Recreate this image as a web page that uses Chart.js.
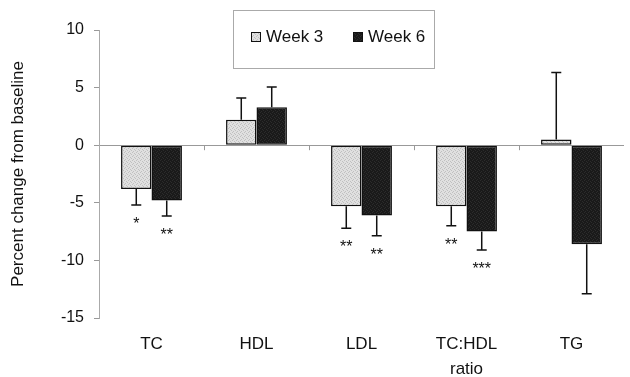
<!DOCTYPE html>
<html>
<head>
<meta charset="utf-8">
<script src="https://cdn.jsdelivr.net/npm/chart.js@4/dist/chart.umd.min.js"></script>
<style>
  body { margin: 0; background: #fff; }
  #wrap { width: 630px; height: 377px; }
</style>
</head>
<body>
<div id="wrap"><canvas id="myChart"></canvas></div>
<script>
let categories = ['TC', 'HDL', 'LDL', ['TC:HDL', 'ratio'], 'TG'];
let seriesNames = ['Week 3', 'Week 6'];
let week3 = [-3.8, 2.2, -5.3, -5.3, 0.5];
let week6 = [-4.8, 3.3, -6.1, -7.5, -8.6];
let week3Err = [1.4, 1.9, 1.9, 1.7, 5.8];
let week6Err = [1.35, 1.75, 1.75, 1.6, 4.3];
let week3Sig = ['*', '', '**', '**', ''];
let week6Sig = ['**', '', '**', '***', ''];
let yTicks = [10, 5, 0, -5, -10, -15];

let FONT = "'Liberation Sans', Arial, sans-serif";

// stippled fill like the scanned figure
function stipple(base, dot) {
  let c = document.createElement('canvas');
  c.width = 4; c.height = 4;
  let g = c.getContext('2d');
  g.fillStyle = base;
  g.fillRect(0, 0, 4, 4);
  g.fillStyle = dot;
  [[0, 0], [2, 1], [1, 3], [3, 2]].forEach(p => g.fillRect(p[0], p[1], 1, 1));
  return g.createPattern(c, 'repeat');
}
let fill3 = stipple('#e0e0e0', '#c0c0c0');
let fill6 = stipple('#1a1a1a', '#2c2c2c');

let errors = [week3Err, week6Err];
let sigs = [week3Sig, week6Sig];

let errorBars = {
  id: 'errorBars',
  afterDatasetsDraw(chart) {
    let ctx = chart.ctx;
    let y = chart.scales.y;
    ctx.save();
    ctx.strokeStyle = '#111';
    ctx.lineWidth = 1.5;
    ctx.fillStyle = '#111';
    ctx.font = '16px ' + FONT;
    ctx.textAlign = 'center';
    ctx.textBaseline = 'alphabetic';
    chart.data.datasets.forEach((ds, d) => {
      chart.getDatasetMeta(d).data.forEach((bar, i) => {
        let v = ds.data[i];
        let end = v >= 0 ? v + errors[d][i] : v - errors[d][i];
        let py = y.getPixelForValue(end);
        ctx.beginPath();
        ctx.moveTo(bar.x, bar.y);
        ctx.lineTo(bar.x, py);
        ctx.moveTo(bar.x - 5, py);
        ctx.lineTo(bar.x + 5, py);
        ctx.stroke();
        if (sigs[d][i]) {
          ctx.fillText(sigs[d][i], bar.x, py + 24);
        }
      });
    });
    ctx.restore();
  }
};

let decor = {
  id: 'decor',
  afterDraw(chart) {
    let ctx = chart.ctx;
    let x = chart.scales.x;
    let y0 = chart.scales.y.getPixelForValue(0);
    ctx.save();
    // small category ticks on the zero line
    ctx.strokeStyle = '#999';
    ctx.lineWidth = 1;
    for (let i = 1; i < categories.length; i++) {
      let px = Math.round((x.getPixelForValue(i - 1) + x.getPixelForValue(i)) / 2) + 0.5;
      ctx.beginPath();
      ctx.moveTo(px, y0);
      ctx.lineTo(px, y0 + 5);
      ctx.stroke();
    }
    // legend box
    ctx.strokeStyle = '#aaa';
    ctx.strokeRect(233.5, 10.5, 201, 58);
    let fills = [fill3, fill6];
    let sx = [251, 353];
    ctx.font = '17px ' + FONT;
    ctx.textBaseline = 'middle';
    ctx.textAlign = 'left';
    seriesNames.forEach((name, k) => {
      ctx.fillStyle = fills[k];
      ctx.fillRect(sx[k], 32, 10, 10);
      ctx.strokeStyle = '#111';
      ctx.lineWidth = 1;
      ctx.strokeRect(sx[k] + 0.5, 32.5, 9, 9);
      ctx.fillStyle = '#111';
      ctx.fillText(name, sx[k] + 15, 37);
    });
    ctx.restore();
  }
};

let ctx = document.getElementById('myChart').getContext('2d');
let chart = new Chart(ctx, {
  type: 'bar',
  data: {
    labels: categories,
    datasets: [{
      label: seriesNames[0],
      data: week3,
      backgroundColor: fill3,
      borderColor: '#111',
      borderWidth: 1.5,
      borderSkipped: false
    }, {
      label: seriesNames[1],
      data: week6,
      backgroundColor: fill6,
      borderColor: '#111',
      borderWidth: 1.5,
      borderSkipped: false
    }]
  },
  options: {
    responsive: true,
    maintainAspectRatio: false,
    animation: false,
    layout: { padding: { top: 30, right: 6, left: 0, bottom: 0 } },
    categoryPercentage: 0.58,
    barPercentage: 1,
    plugins: {
      legend: { display: false },
      tooltip: { enabled: false }
    },
    scales: {
      x: {
        grid: { display: false, drawTicks: false },
        border: { display: false },
        ticks: {
          color: '#111',
          padding: 14,
          font: { family: FONT, size: 17, lineHeight: 1.47 },
          maxRotation: 0
        },
        afterFit(scale) { scale.height = 59; }
      },
      y: {
        min: -15,
        max: 10,
        afterBuildTicks(scale) { scale.ticks = yTicks.map(v => ({ value: v })); },
        grid: {
          color: c => (c.tick && c.tick.value === 0) ? '#999' : 'rgba(0,0,0,0)',
          tickColor: '#999',
          tickLength: 5
        },
        border: { color: '#aaa' },
        ticks: {
          color: '#111',
          padding: 10,
          font: { family: FONT, size: 16 }
        },
        title: {
          display: true,
          text: 'Percent change from baseline',
          color: '#111',
          font: { family: FONT, size: 17 },
          padding: { top: 8, bottom: 0 }
        },
        afterFit(scale) { scale.width = 99; }
      }
    }
  },
  plugins: [errorBars, decor]
});
</script>
</body>
</html>
